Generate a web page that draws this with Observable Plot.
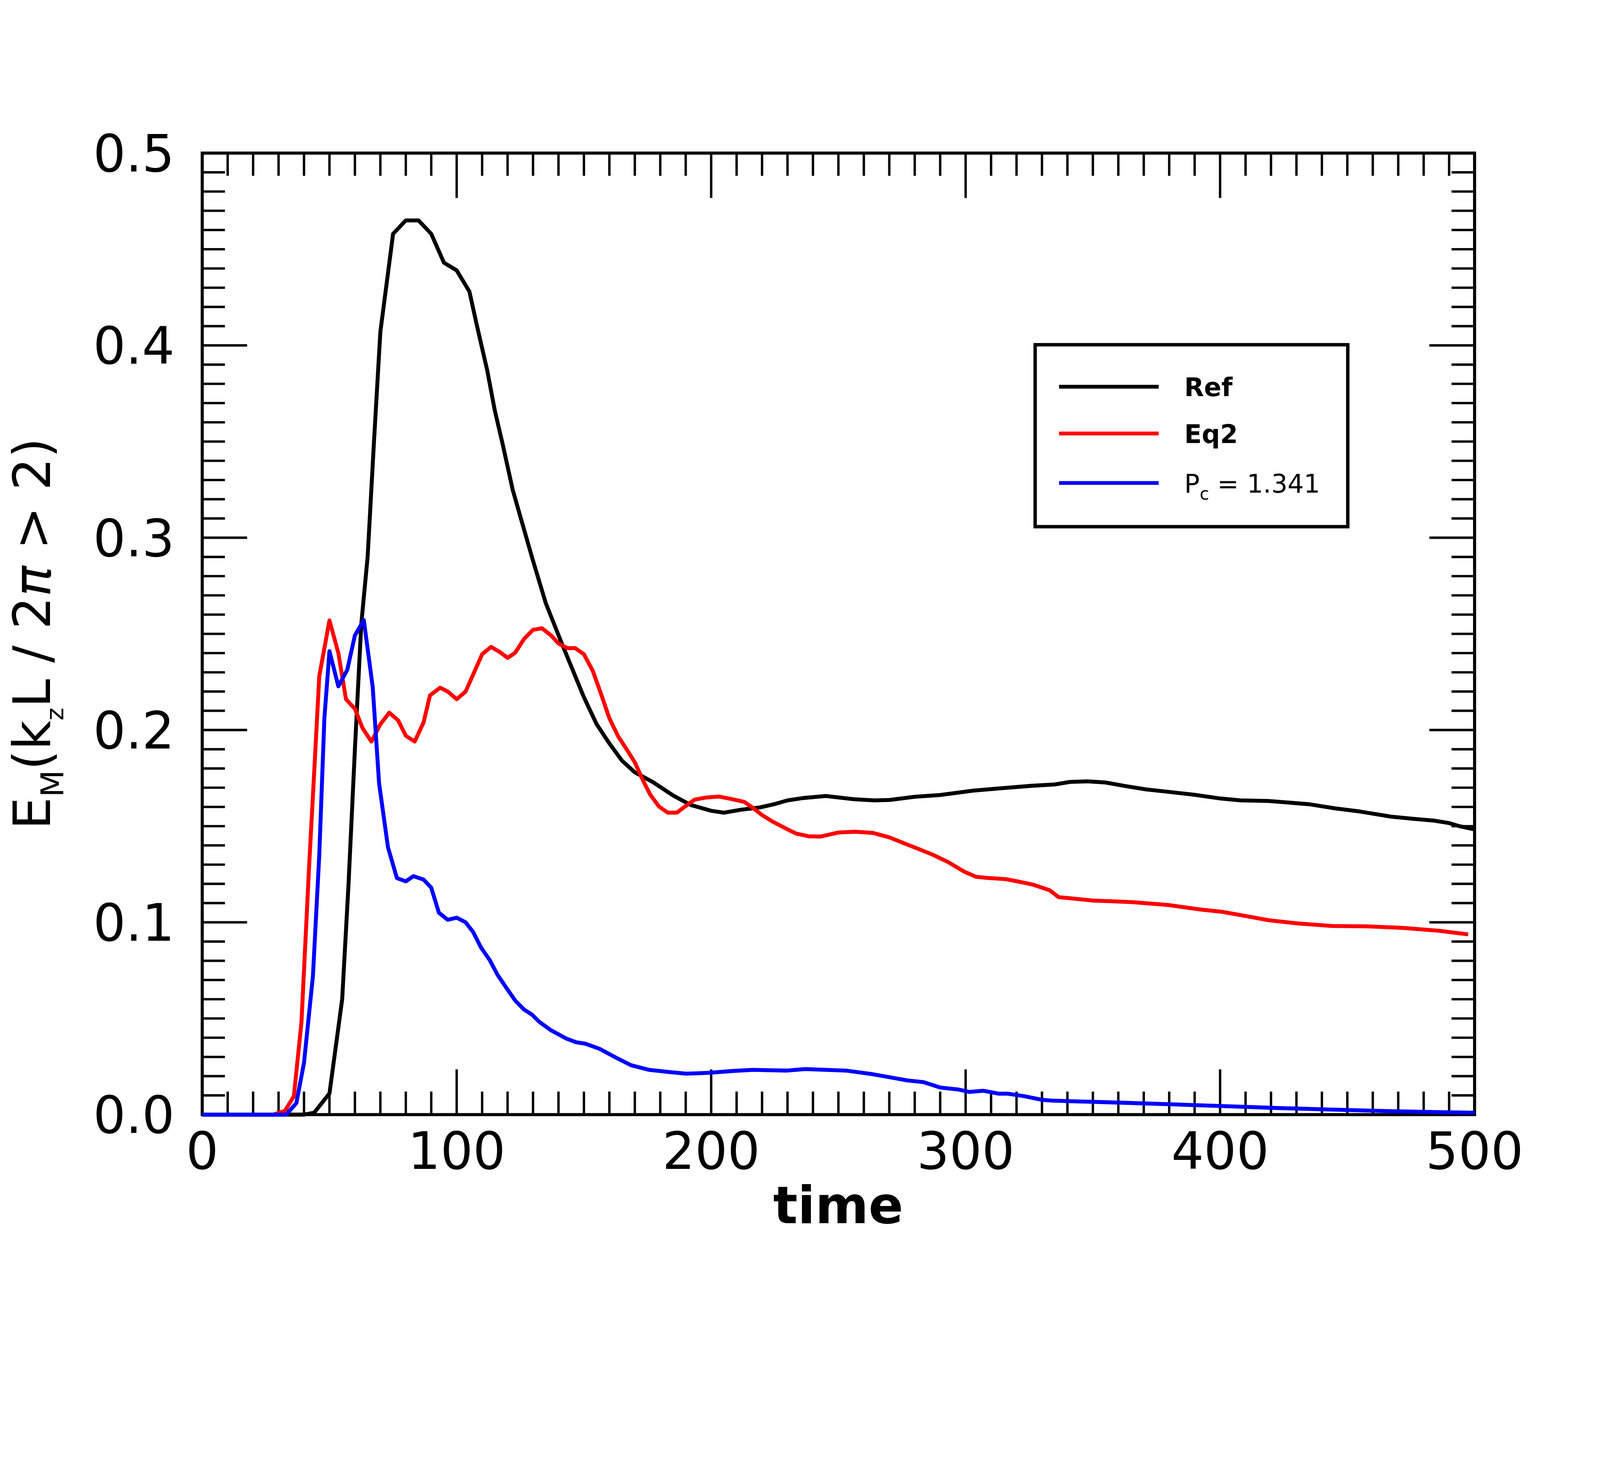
<!DOCTYPE html>
<html>
<head>
<meta charset="utf-8">
<script src="https://cdn.jsdelivr.net/npm/d3@7"></script>
<script src="https://cdn.jsdelivr.net/npm/@observablehq/plot@0.6"></script>
<style>
  html, body { margin: 0; padding: 0; background: #fff; }
  #chart svg { display: block; width: 100%; height: auto; max-width: 100%; }
</style>
</head>
<body>
<div id="chart"></div>
<script>
// ---------------- data ----------------
const seriesNames  = ["Ref", "Eq2", "Pc"];
const seriesColors = ["#000000", "#ff0000", "#0000ff"];

const refTime = [0, 40, 44, 50, 55, 57.5, 60, 62.5, 65, 67.5, 70, 75, 80, 85, 90, 95, 100, 105, 108, 112,
  115, 118, 122, 125, 130, 135, 141, 150, 155, 160, 165, 170, 177, 185, 192, 200, 205, 212, 219, 225,
  230, 236, 245, 256, 264, 270, 280, 290, 303, 312, 326, 335, 341, 348, 355, 363, 371, 380, 390, 400,
  408, 419, 435, 445, 455, 467, 476, 484, 490, 494, 500];
const refVal = [0, 0, 0.001, 0.011, 0.06, 0.12, 0.19, 0.255, 0.29, 0.35, 0.407, 0.458, 0.465, 0.465, 0.458, 0.443, 0.439, 0.428, 0.41, 0.387,
  0.366, 0.349, 0.325, 0.311, 0.288, 0.266, 0.246, 0.217, 0.203, 0.193, 0.184, 0.178, 0.173, 0.166, 0.161, 0.158, 0.157, 0.1586, 0.1597, 0.1615,
  0.1634, 0.1646, 0.1657, 0.164, 0.1634, 0.1636, 0.1653, 0.1662, 0.1685, 0.1695, 0.171, 0.1717, 0.173, 0.1733, 0.1727, 0.1708, 0.1691, 0.1678, 0.1663, 0.1644,
  0.1634, 0.1631, 0.1614, 0.1593, 0.1576, 0.155, 0.1538, 0.1529, 0.1516, 0.15, 0.1483];

const eqTime = [0, 28, 32.5, 36, 39, 42, 44, 46, 50, 53.5, 56.5, 60, 63, 66.5, 70, 73.5, 77, 80, 83.5,
  87, 89.5, 93.5, 96.5, 100, 103.5, 110, 113.5, 117, 120, 123, 126.5, 130, 133.5, 137, 140, 143.5, 146.5, 150, 153.5,
  156.5, 160, 163.5, 167, 170, 173, 176, 179.5, 183, 186.5, 190, 193.5, 198, 203, 208, 213, 216.5, 220, 224, 229.5,
  233.5, 238.5, 243, 250, 256.5, 263.5, 270, 276, 281, 287, 293, 299.5, 304, 308.5, 316, 319.5, 326.5, 333, 336.5, 341,
  350, 356.5, 365.5, 379.5, 391.5, 401, 410, 419, 430.5, 444, 458, 472, 486, 497.5];
const eqVal = [0, 0, 0.002, 0.0095, 0.048, 0.129, 0.178, 0.228, 0.257, 0.240, 0.216, 0.211, 0.201, 0.194, 0.203, 0.209, 0.205, 0.197, 0.194,
  0.204, 0.218, 0.222, 0.220, 0.216, 0.220, 0.2394, 0.2432, 0.2405, 0.2375, 0.2402, 0.2474, 0.2521, 0.2529, 0.2493, 0.245, 0.2426, 0.2426, 0.2394, 0.2307,
  0.2196, 0.2061, 0.1966, 0.1895, 0.1832, 0.1744, 0.1665, 0.1602, 0.157, 0.157, 0.1605, 0.1638, 0.1649, 0.1654, 0.1641, 0.1626, 0.1594, 0.1558, 0.1525, 0.1487,
  0.1461, 0.1447, 0.1446, 0.1467, 0.1471, 0.1465, 0.1442, 0.141, 0.1384, 0.1352, 0.1314, 0.1263, 0.1237, 0.1231, 0.1224, 0.1215, 0.1196, 0.1167, 0.1131, 0.1125,
  0.1113, 0.111, 0.1105, 0.109, 0.1068, 0.1054, 0.1033, 0.1011, 0.0994, 0.0981, 0.0979, 0.0971, 0.0956, 0.0937];

const pcTime = [0, 33, 37, 40, 43.5, 46, 48, 50, 53.5, 57, 60, 63.5, 67, 69.5, 73, 76.5, 80, 83, 87, 90,
  93, 96.5, 100, 103.5, 106.5, 109.5, 113, 116, 120, 123, 126.5, 129.5, 132.5, 137, 143, 147, 150.5, 156, 162.5, 168.5,
  175.5, 183, 190, 195, 200, 208.5, 216.5, 223, 229.5, 237, 245, 253, 263, 269, 277, 283.5, 290, 297, 301.5, 307,
  313, 316.5, 323, 330, 334, 343.5, 356.5, 380, 400, 421, 444, 467, 486, 500];
const pcVal = [0, 0, 0.006, 0.027, 0.072, 0.135, 0.206, 0.241, 0.2227, 0.2313, 0.2492, 0.2572, 0.2223, 0.1723, 0.139, 0.123, 0.1213, 0.124, 0.1222, 0.118,
  0.105, 0.1013, 0.1024, 0.100, 0.0949, 0.087, 0.0803, 0.0728, 0.065, 0.0593, 0.0546, 0.0521, 0.0482, 0.0439, 0.0396, 0.0376, 0.0369, 0.0343, 0.0297, 0.0257,
  0.0233, 0.0222, 0.0213, 0.0215, 0.0218, 0.0227, 0.0233, 0.0231, 0.0229, 0.0237, 0.0233, 0.0229, 0.0211, 0.0197, 0.0178, 0.0169, 0.0141, 0.0131, 0.0118, 0.0124,
  0.0109, 0.0109, 0.0096, 0.0077, 0.0073, 0.0069, 0.0064, 0.0054, 0.0045, 0.0035, 0.0026, 0.0018, 0.0013, 0.001];

const xTickLabels = [0, 100, 200, 300, 400, 500];
const yTickLabels = [0.0, 0.1, 0.2, 0.3, 0.4, 0.5];
const xLabel = "time";
const legendLabels = ["Ref", "Eq2", "P_c = 1.341"];

// ---------------- layout ----------------
const W = 4688, H = 3750;
const mL = 592, mR = 368, mT = 448, mB = 485;
const fw = W - mL - mR, fh = H - mT - mB;
const FONT = "DejaVu Sans";
const minorLen = 67, majorLen = 132;

function zipSeries(ts, vs, name) {
  const n = Math.min(ts.length, vs.length);
  const out = [];
  for (let i = 0; i < n; i++) out.push({t: ts[i], v: vs[i], series: name});
  return out;
}
const seriesData = [
  zipSeries(refTime, refVal, seriesNames[0]),
  zipSeries(eqTime, eqVal, seriesNames[1]),
  zipSeries(pcTime, pcVal, seriesNames[2])
];

const xMinor = d3.range(10, 500, 10).filter(d => d % 100 !== 0);
const xMajorInner = xTickLabels.filter(d => d > 0 && d < 500);
const yMinor = d3.range(1, 50).filter(i => i % 10 !== 0).map(i => i / 100);
const yMajorInner = yTickLabels.filter(d => d > 0 && d < 0.5);

const tickStyle = {stroke: "#000", strokeWidth: 7, strokeLinecap: "butt"};

const plot = Plot.plot({
  width: W, height: H,
  marginLeft: mL, marginRight: mR, marginTop: mT, marginBottom: mB,
  style: {fontFamily: FONT, fontSize: "150px", background: "#fff", color: "#000"},
  x: {domain: [0, 500]},
  y: {domain: [0, 0.5]},
  marks: [
    // bottom / top ticks (inward)
    Plot.tickX(xMinor, {x: d => d, insetTop: fh - minorLen, ...tickStyle}),
    Plot.tickX(xMinor, {x: d => d, insetBottom: fh - minorLen, ...tickStyle}),
    Plot.tickX(xMajorInner, {x: d => d, insetTop: fh - majorLen, ...tickStyle}),
    Plot.tickX(xMajorInner, {x: d => d, insetBottom: fh - majorLen, ...tickStyle}),
    // left / right ticks (inward)
    Plot.tickY(yMinor, {y: d => d, insetRight: fw - minorLen, ...tickStyle}),
    Plot.tickY(yMinor, {y: d => d, insetLeft: fw - minorLen, ...tickStyle}),
    Plot.tickY(yMajorInner, {y: d => d, insetRight: fw - majorLen, ...tickStyle}),
    Plot.tickY(yMajorInner, {y: d => d, insetLeft: fw - majorLen, ...tickStyle}),
    Plot.frame({stroke: "#000", strokeWidth: 9}),
    // data lines
    ...seriesData.map((data, i) => Plot.line(data, {
      x: "t", y: "v", stroke: seriesColors[i], strokeWidth: 11.5,
      strokeLinejoin: "round", strokeLinecap: "butt"
    })),
    // tick labels
    Plot.axisX(xTickLabels, {tickSize: 0, tickPadding: 52, fontSize: 150, label: null, tickFormat: d => String(d)}),
    Plot.axisY(yTickLabels, {tickSize: 0, tickPadding: 81, fontSize: 150, label: null, dy: 6, tickFormat: d3.format(".1f")})
  ]
});

const svg = d3.select(plot);

// x axis title
svg.append("text")
  .attr("x", mL + fw / 2).attr("y", 3583)
  .attr("text-anchor", "middle")
  .attr("font-family", FONT).attr("font-weight", "bold").attr("font-size", 150)
  .attr("fill", "#000")
  .text(xLabel);

// y axis title with subscripts
const yt = svg.append("text")
  .attr("transform", `translate(146,${mT + fh / 2}) rotate(-90)`)
  .attr("text-anchor", "middle")
  .attr("font-family", FONT).attr("font-size", 150).attr("fill", "#000");
yt.append("tspan").text("E");
yt.append("tspan").attr("font-size", 92).attr("dy", 39).text("M");
yt.append("tspan").attr("font-size", 150).attr("dy", -39).text("(k");
yt.append("tspan").attr("font-size", 72).attr("dy", 39).text("z");
yt.append("tspan").attr("font-size", 150).attr("dy", -39).text("L / 2");
yt.append("tspan").attr("font-style", "italic").text("π");
yt.append("tspan").text(" > 2)");

// legend
const lgX = 3033, lgY = 1010, lgW = 916, lgH = 533;
const lg = svg.append("g").attr("text-anchor", "start");
lg.append("rect")
  .attr("x", lgX).attr("y", lgY).attr("width", lgW).attr("height", lgH)
  .attr("fill", "#fff").attr("stroke", "#000").attr("stroke-width", 10);
const rowY = [1133, 1270, 1415];
seriesNames.forEach((name, i) => {
  lg.append("line")
    .attr("x1", 3103).attr("x2", 3395).attr("y1", rowY[i]).attr("y2", rowY[i])
    .attr("stroke", seriesColors[i]).attr("stroke-width", 11);
  const t = lg.append("text")
    .attr("x", 3470).attr("y", rowY[i] + 28)
    .attr("text-anchor", "start")
    .attr("font-family", FONT).attr("font-size", 75).attr("fill", "#000");
  if (i < 2) {
    t.attr("font-weight", "bold").text(legendLabels[i]);
  } else {
    const parts = legendLabels[i].split("_");
    t.append("tspan").text(parts[0]);
    t.append("tspan").attr("font-size", 50).attr("dy", 21).text(parts[1].slice(0, 1));
    t.append("tspan").attr("font-size", 75).attr("dy", -21).text(parts[1].slice(1));
  }
});

document.getElementById("chart").appendChild(plot);
</script>
</body>
</html>
